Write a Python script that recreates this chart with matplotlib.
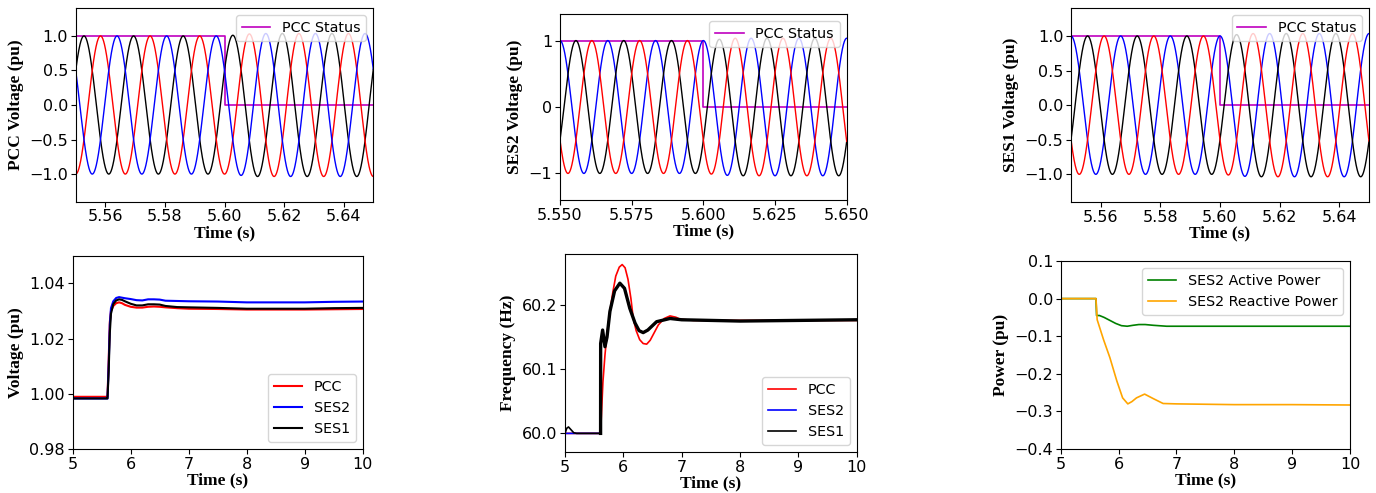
import numpy as np
import matplotlib
matplotlib.use('Agg')
import matplotlib.pyplot as plt

# ---- waveform parameters read from the top row ----
f_grid = 60.0                  # Hz
amp_t = [5.55, 5.60, 5.61, 5.65]
amp_v = [1.0, 1.0, 1.035, 1.035]
# time of first peak of the leading phase, and phase order (colours)
pcc_peak = 5.55278
pcc_order = ['k', 'r', 'b']
ses_peak = 5.55
ses_order = ['b', 'k', 'r']
status_t = [5.55, 5.60, 5.60, 5.65]
status_v = [1, 1, 0, 0]

# ---- bottom-left: RMS voltage ----
tv = [5.0, 5.59, 5.60, 5.62, 5.64, 5.66, 5.70, 5.75, 5.80, 5.85, 5.9, 6.0, 6.1,
      6.2, 6.3, 6.4, 6.5, 6.6, 6.8, 7.0, 7.5, 8.0, 8.5, 9.0, 9.5, 10.0]
v_pcc = [0.9989, 0.9989, 0.9989, 1.012, 1.026, 1.030, 1.0318, 1.0328, 1.0331, 1.0328,
         1.0322, 1.0315, 1.0312, 1.0312, 1.0315, 1.0316, 1.0315, 1.0313, 1.0310,
         1.0308, 1.0307, 1.0305, 1.0305, 1.0305, 1.0306, 1.0307]
v_ses2 = [0.9983, 0.9983, 0.9983, 1.010, 1.025, 1.031, 1.0335, 1.0347, 1.0350, 1.0348,
          1.0346, 1.0343, 1.0339, 1.0338, 1.0342, 1.0342, 1.0341, 1.0337, 1.0336,
          1.0335, 1.0334, 1.0331, 1.0331, 1.0331, 1.0333, 1.0334]
v_ses1 = [0.9983, 0.9983, 0.9983, 1.008, 1.022, 1.029, 1.0325, 1.0338, 1.0342, 1.0340,
          1.0335, 1.0326, 1.0320, 1.0320, 1.0324, 1.0324, 1.0323, 1.0318, 1.0314,
          1.0313, 1.0311, 1.0308, 1.0308, 1.0308, 1.0310, 1.0311]

# ---- bottom-middle: frequency ----
tf_pcc = [5.0, 5.61, 5.63, 5.65, 5.685, 5.72, 5.77, 5.82, 5.87, 5.93, 5.98, 6.03,
          6.08, 6.13, 6.17, 6.22, 6.28, 6.34, 6.40, 6.46, 6.53, 6.60, 6.70, 6.80,
          6.90, 6.97, 7.2, 8.0, 9.0, 10.0]
f_pcc = [60.0, 60.0, 60.04, 60.08, 60.122, 60.155, 60.19, 60.22, 60.245, 60.259,
         60.263, 60.258, 60.24, 60.21, 60.179, 60.16, 60.146, 60.14, 60.139, 60.145,
         60.157, 60.169, 60.179, 60.183, 60.181, 60.178, 60.176, 60.176, 60.176, 60.176]
tf_ses = [5.0, 5.03, 5.06, 5.1, 5.15, 5.2, 5.61, 5.611, 5.645, 5.685, 5.72, 5.77,
          5.85, 5.94, 6.02, 6.11, 6.2, 6.27, 6.34, 6.42, 6.57, 6.80, 7.0, 7.5, 8.0,
          9.0, 10.0]
f_ses1 = [60.0, 60.008, 60.01, 60.006, 60.001, 60.0, 60.0, 60.14, 60.161, 60.135,
          60.15, 60.19, 60.222, 60.234, 60.226, 60.195, 60.172, 60.16, 60.157, 60.161,
          60.174, 60.179, 60.177, 60.176, 60.175, 60.176, 60.177]
f_ses2 = [60.0, 60.0, 60.0, 60.0, 60.0, 60.0, 60.0, 60.14, 60.161, 60.135,
          60.15, 60.19, 60.222, 60.234, 60.226, 60.195, 60.172, 60.16, 60.157, 60.161,
          60.174, 60.179, 60.177, 60.176, 60.175, 60.176, 60.177]

# ---- bottom-right: SES2 power ----
tp = [5.0, 5.61, 5.62, 5.67, 5.75, 5.85, 5.95, 6.05, 6.15, 6.25, 6.35, 6.46, 6.6,
      6.83, 7.0, 8.0, 9.0, 10.0]
p_act = [0.0, 0.0, -0.045, -0.045, -0.050, -0.058, -0.066, -0.072, -0.0735, -0.071,
         -0.069, -0.069, -0.071, -0.0735, -0.0735, -0.0735, -0.0735, -0.0735]
tq = [5.0, 5.61, 5.63, 5.74, 5.85, 5.97, 6.07, 6.16, 6.23, 6.31, 6.45, 6.6, 6.77,
      7.0, 8.0, 9.0, 10.0]
q_react = [0.0, 0.0, -0.056, -0.109, -0.157, -0.219, -0.264, -0.280, -0.274, -0.264,
           -0.254, -0.266, -0.279, -0.280, -0.282, -0.282, -0.283]

W, H = 1376, 493
fig = plt.figure(figsize=(W / 100, H / 100), dpi=100)


def px_axes(x0, y0, x1, y1):
    return fig.add_axes([x0 / W, 1 - y1 / H, (x1 - x0) / W, (y1 - y0) / H])


label_font = dict(family='Liberation Serif', weight='bold', size=12.5)
tick_size = 11.5
leg_size = 10.3


def three_phase(ax, t0, order):
    t = np.linspace(5.55, 5.65, 3000)
    amp = np.interp(t, amp_t, amp_v)
    ax.plot(status_t, status_v, color='m', lw=1.2, label='PCC Status')
    for k, c in enumerate(order):
        ph = 2 * np.pi * f_grid * (t - t0) - k * 2 * np.pi / 3
        ax.plot(t, amp * np.cos(ph), color=c, lw=1.0)
    ax.set_xlim(5.55, 5.65)
    ax.set_ylim(-1.4, 1.4)
    ax.legend(loc='upper right', fontsize=leg_size)


# top row
ax1 = px_axes(75.7, 8.3, 373.3, 201.7)
three_phase(ax1, pcc_peak, pcc_order)
ax1.set_yticks([-1.0, -0.5, 0.0, 0.5, 1.0])
ax1.set_xticks([5.56, 5.58, 5.60, 5.62, 5.64])
ax1.set_ylabel('PCC Voltage (pu)', **label_font)

ax2 = px_axes(560, 14, 846.7, 200)
three_phase(ax2, ses_peak, ses_order)
ax2.set_yticks([-1, 0, 1])
ax2.set_xticks([5.55, 5.575, 5.60, 5.625, 5.65])
ax2.set_xticklabels(['5.550', '5.575', '5.600', '5.625', '5.650'])
ax2.set_ylabel('SES2 Voltage (pu)', **label_font)

ax3 = px_axes(1071, 8.3, 1369, 202)
three_phase(ax3, ses_peak, ses_order)
ax3.set_yticks([-1.0, -0.5, 0.0, 0.5, 1.0])
ax3.set_xticks([5.56, 5.58, 5.60, 5.62, 5.64])
ax3.set_ylabel('SES1 Voltage (pu)', **label_font)

# bottom row
ax4 = px_axes(72.7, 255.7, 362.7, 449)
ax4.plot(tv, v_pcc, color='r', lw=1.5, label='PCC')
ax4.plot(tv, v_ses2, color='b', lw=1.5, label='SES2')
ax4.plot(tv, v_ses1, color='k', lw=1.5, label='SES1')
ax4.set_xlim(5, 10)
ax4.set_ylim(0.98, 1.05)
ax4.set_yticks([0.98, 1.00, 1.02, 1.04])
ax4.set_ylabel('Voltage (pu)', **label_font)
ax4.legend(loc='lower right', fontsize=leg_size)

ax5 = px_axes(565, 254.3, 856.7, 452)
ax5.plot(tf_pcc, f_pcc, color='r', lw=1.2, label='PCC')
ax5.plot(tf_ses, f_ses2, color='b', lw=1.2, label='SES2')
ax5.plot(tf_ses, f_ses1, color='k', lw=1.2, label='SES1')
# SES1 trace looks heavier after islanding
n0 = tf_ses.index(5.61)
ax5.plot(tf_ses[n0:], f_ses1[n0:], color='k', lw=2.4)
ax5.set_xlim(5, 10)
ax5.set_ylim(59.971, 60.279)
ax5.set_yticks([60.0, 60.1, 60.2])
ax5.set_ylabel('Frequency (Hz)', **label_font)
ax5.legend(loc='lower right', fontsize=leg_size)

ax6 = px_axes(1060.7, 261, 1350, 449)
ax6.plot(tp, p_act, color='g', lw=1.2, label='SES2 Active Power')
ax6.plot(tq, q_react, color='orange', lw=1.2, label='SES2 Reactive Power')
ax6.set_xlim(5, 10)
ax6.set_ylim(-0.4, 0.1)
ax6.set_yticks([-0.4, -0.3, -0.2, -0.1, 0.0, 0.1])
ax6.set_ylabel('Power (pu)', **label_font)
ax6.legend(loc='upper right', fontsize=leg_size)

for ax in (ax4, ax5, ax6):
    ax.set_xticks([5, 6, 7, 8, 9, 10])

for ax in (ax1, ax2, ax3, ax4, ax5, ax6):
    ax.tick_params(labelsize=tick_size, pad=2)
    ax.set_xlabel('Time (s)', labelpad=0.5, **label_font)

fig.savefig('out.png', dpi=100)
